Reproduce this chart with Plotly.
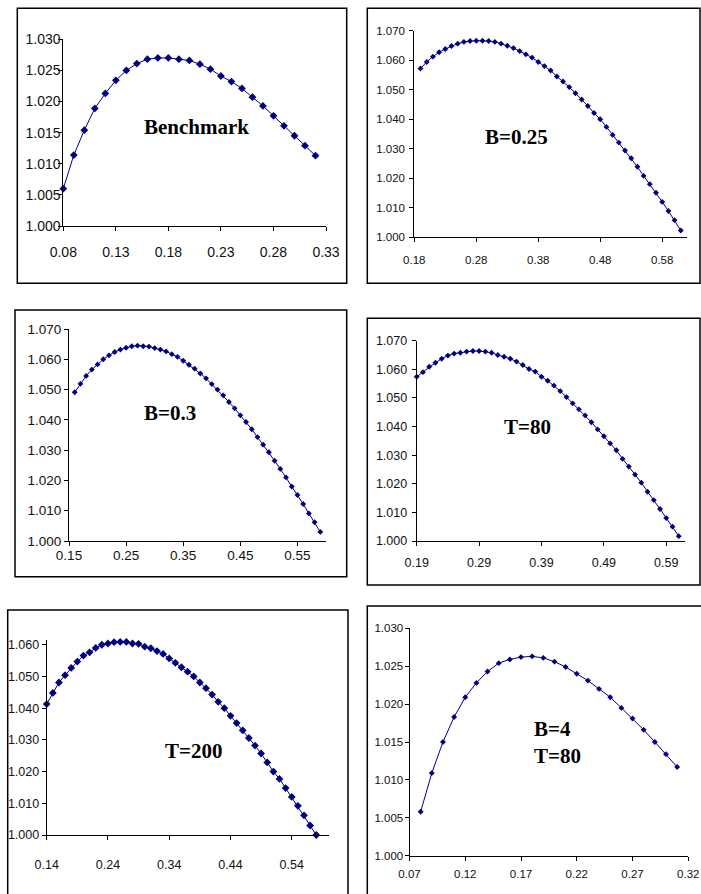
import plotly.graph_objects as go

W, H = 701, 894

# ---------------- data ----------------
bench_x = [0.08, 0.09, 0.10, 0.11, 0.12, 0.13, 0.14, 0.15, 0.16, 0.17, 0.18, 0.19, 0.20,
           0.21, 0.22, 0.23, 0.24, 0.25, 0.26, 0.27, 0.28, 0.29, 0.30, 0.31, 0.32]
bench_y = [1.0060, 1.0114, 1.0154, 1.0189, 1.0213, 1.0234, 1.0250, 1.0261, 1.0268, 1.0270,
           1.0270, 1.0268, 1.0266, 1.0260, 1.0252, 1.0241, 1.0232, 1.0221, 1.0207, 1.0193,
           1.0177, 1.0161, 1.0145, 1.0129, 1.0113]

b025_x = [0.19, 0.20, 0.21, 0.22, 0.23, 0.24, 0.25, 0.26, 0.27, 0.28, 0.29, 0.30, 0.31, 0.32,
          0.33, 0.34, 0.35, 0.36, 0.37, 0.38, 0.39, 0.40, 0.41, 0.42, 0.43, 0.44, 0.45, 0.46,
          0.47, 0.48, 0.49, 0.50, 0.51, 0.52, 0.53, 0.54, 0.55, 0.56, 0.57, 0.58, 0.59, 0.60, 0.61]
b025_y = [1.0572, 1.0594, 1.0612, 1.0627, 1.0638, 1.0648, 1.0656, 1.0662, 1.0665, 1.0666,
          1.0666, 1.0665, 1.0662, 1.0656, 1.0649, 1.0641, 1.0631, 1.0620, 1.0609, 1.0594,
          1.0580, 1.0565, 1.0545, 1.0528, 1.0509, 1.0488, 1.0467, 1.0445, 1.0421, 1.0400,
          1.0374, 1.0347, 1.0321, 1.0294, 1.0268, 1.0239, 1.0208, 1.0180, 1.0151, 1.0120,
          1.0089, 1.0058, 1.0023]

b03_x = [0.16, 0.17, 0.18, 0.19, 0.20, 0.21, 0.22, 0.23, 0.24, 0.25, 0.26, 0.27, 0.28, 0.29,
         0.30, 0.31, 0.32, 0.33, 0.34, 0.35, 0.36, 0.37, 0.38, 0.39, 0.40, 0.41, 0.42, 0.43,
         0.44, 0.45, 0.46, 0.47, 0.48, 0.49, 0.50, 0.51, 0.52, 0.53, 0.54, 0.55, 0.56, 0.57,
         0.58, 0.59]
b03_y = [1.0491, 1.0519, 1.0545, 1.0566, 1.0583, 1.0600, 1.0613, 1.0624, 1.0632, 1.0638,
         1.0643, 1.0645, 1.0643, 1.0642, 1.0637, 1.0632, 1.0626, 1.0617, 1.0608, 1.0595,
         1.0582, 1.0569, 1.0553, 1.0537, 1.0518, 1.0500, 1.0481, 1.0459, 1.0438, 1.0415,
         1.0393, 1.0369, 1.0343, 1.0318, 1.0293, 1.0265, 1.0238, 1.0210, 1.0180, 1.0152,
         1.0122, 1.0091, 1.0062, 1.0030]

t80_x = [0.19, 0.20, 0.21, 0.22, 0.23, 0.24, 0.25, 0.26, 0.27, 0.28, 0.29, 0.30, 0.31, 0.32,
         0.33, 0.34, 0.35, 0.36, 0.37, 0.38, 0.39, 0.40, 0.41, 0.42, 0.43, 0.44, 0.45, 0.46,
         0.47, 0.48, 0.49, 0.50, 0.51, 0.52, 0.53, 0.54, 0.55, 0.56, 0.57, 0.58, 0.59, 0.60, 0.61]
t80_y = [1.0574, 1.0590, 1.0609, 1.0623, 1.0637, 1.0648, 1.0655, 1.0658, 1.0662, 1.0664,
         1.0664, 1.0662, 1.0658, 1.0650, 1.0644, 1.0637, 1.0627, 1.0615, 1.0601, 1.0592,
         1.0574, 1.0560, 1.0543, 1.0524, 1.0503, 1.0481, 1.0460, 1.0439, 1.0415, 1.0390,
         1.0366, 1.0341, 1.0317, 1.0287, 1.0260, 1.0232, 1.0204, 1.0172, 1.0143, 1.0112,
         1.0080, 1.0050, 1.0017]

t200_x = [0.14, 0.15, 0.16, 0.17, 0.18, 0.19, 0.20, 0.21, 0.22, 0.23, 0.24, 0.25, 0.26, 0.27,
          0.28, 0.29, 0.30, 0.31, 0.32, 0.33, 0.34, 0.35, 0.36, 0.37, 0.38, 0.39, 0.40, 0.41,
          0.42, 0.43, 0.44, 0.45, 0.46, 0.47, 0.48, 0.49, 0.50, 0.51, 0.52, 0.53, 0.54, 0.55,
          0.56, 0.57, 0.58]
t200_y = [1.0413, 1.0448, 1.0481, 1.0504, 1.0527, 1.0547, 1.0566, 1.0576, 1.0590, 1.0600,
          1.0604, 1.0608, 1.0609, 1.0609, 1.0604, 1.0603, 1.0594, 1.0589, 1.0580, 1.0571,
          1.0557, 1.0543, 1.0529, 1.0515, 1.0500, 1.0481, 1.0463, 1.0443, 1.0420, 1.0400,
          1.0376, 1.0353, 1.0330, 1.0306, 1.0282, 1.0257, 1.0229, 1.0200, 1.0177, 1.0148,
          1.0120, 1.0092, 1.0062, 1.0030, 1.0000]

b4t80_x = [0.08, 0.09, 0.10, 0.11, 0.12, 0.13, 0.14, 0.15, 0.16, 0.17, 0.18, 0.19, 0.20,
           0.21, 0.22, 0.23, 0.24, 0.25, 0.26, 0.27, 0.28, 0.29, 0.30, 0.31]
b4t80_y = [1.0058, 1.0109, 1.0150, 1.0183, 1.0209, 1.0228, 1.0243, 1.0254, 1.0259, 1.0262,
           1.0263, 1.0261, 1.0256, 1.0249, 1.0240, 1.0231, 1.0220, 1.0209, 1.0195, 1.0181,
           1.0166, 1.0150, 1.0134, 1.0117]

labels = ["Benchmark", "B=0.25", "B=0.3", "T=80", "T=200", "B=4<br>T=80"]

# ---------------- panel layout (pixel geometry) ----------------
NAVY = "#000080"


def px_x(v):
    return v / W


def px_y(v):
    return 1 - v / H


panels = [
    dict(x=bench_x, y=bench_y, plot=(63.3, 326.0, 39.3, 226.0), xr=[0.08, 0.33], x0=0.08, dx=0.05,
         yr=[1.0, 1.030], dy=0.005, msize=6, tfs=14, xso=9, yso=-5,
         box=(17.3, 346.7, 8.3, 283.3), lab=(196, 127)),
    dict(x=b025_x, y=b025_y, plot=(414.3, 687.0, 30.7, 237.3), xr=[0.18, 0.62], x0=0.18, dx=0.1,
         yr=[1.0, 1.070], dy=0.01, msize=4.5, tfs=11.5, xso=8, yso=2,
         box=(367.3, 700.0, 8.3, 283.3), lab=(516, 137)),
    dict(x=b03_x, y=b03_y, plot=(69.0, 326.0, 329.0, 541.0), xr=[0.15, 0.60], x0=0.15, dx=0.1,
         yr=[1.0, 1.070], dy=0.01, msize=4.5, tfs=13.5, xso=-2, yso=0,
         box=(15.0, 346.7, 310.0, 576.7), lab=(170, 413)),
    dict(x=t80_x, y=t80_y, plot=(416.7, 685.0, 340.7, 541.0), xr=[0.19, 0.62], x0=0.19, dx=0.1,
         yr=[1.0, 1.070], dy=0.01, msize=4.5, tfs=12.5, xso=6, yso=2,
         box=(367.3, 700.0, 318.3, 585.0), lab=(527, 427)),
    dict(x=t200_x, y=t200_y, plot=(46.7, 328.5, 640.0, 835.0), xr=[0.14, 0.60], x0=0.14, dx=0.1,
         yr=[1.0, 1.0615], dy=0.01, msize=6, tfs=12.5, xso=14, yso=0,
         box=(7.7, 348.0, 610.0, 900.0), lab=(193, 751)),
    dict(x=b4t80_x, y=b4t80_y, plot=(409.5, 688.3, 628.3, 855.7), xr=[0.07, 0.32], x0=0.07, dx=0.05,
         yr=[1.0, 1.030], dy=0.005, msize=4.5, tfs=11.5, xso=3, yso=-1,
         box=(367.3, 706.0, 606.0, 900.0), lab=(532, 742)),
]

fig = go.Figure()
shapes = []
annotations = []

for i, p in enumerate(panels, start=1):
    sfx = "" if i == 1 else str(i)
    fig.add_trace(go.Scatter(
        x=p["x"], y=p["y"], mode="lines+markers",
        line=dict(color=NAVY, width=1),
        marker=dict(symbol="diamond", size=p["msize"], color=NAVY),
        cliponaxis=False, showlegend=False, hoverinfo="x+y",
        xaxis="x" + sfx, yaxis="y" + sfx,
    ))
    x0, x1, y0, y1 = p["plot"]
    tick_font = dict(family="Liberation Sans", size=p["tfs"], color="#111111")
    common = dict(
        showline=True, linecolor="black", linewidth=1, mirror=False,
        ticks="outside", ticklen=4, tickcolor="black", tickwidth=1,
        showgrid=False, zeroline=False, tickfont=tick_font,
        fixedrange=True, automargin=False,
    )
    fig.layout["xaxis" + sfx] = dict(
        domain=[px_x(x0), px_x(x1)], anchor="y" + sfx, range=p["xr"],
        tickmode="linear", tick0=p["x0"], dtick=p["dx"], tickformat=".2f",
        ticklabelstandoff=p["xso"], **common,
    )
    fig.layout["yaxis" + sfx] = dict(
        domain=[px_y(y1), px_y(y0)], anchor="x" + sfx, range=p["yr"],
        tickmode="linear", tick0=1.0, dtick=p["dy"], tickformat=".3f",
        ticklabelstandoff=p["yso"], **common,
    )
    bx0, bx1, by0, by1 = p["box"]
    shapes.append(dict(type="rect", xref="paper", yref="paper",
                       x0=px_x(bx0), x1=px_x(bx1), y0=px_y(by1), y1=px_y(by0),
                       line=dict(color="black", width=1.5), fillcolor="rgba(0,0,0,0)",
                       layer="below"))
    lx, ly = p["lab"]
    last = i == 6
    annotations.append(dict(
        text=labels[i - 1], xref="paper", yref="paper",
        x=px_x(lx), y=px_y(ly), xanchor="left" if last else "center", yanchor="middle",
        align="left", showarrow=False,
        font=dict(family="Liberation Serif", size=21, color="black", weight="bold"),
    ))

fig.update_layout(
    width=W, height=H, margin=dict(l=0, r=0, t=0, b=0, autoexpand=False),
    paper_bgcolor="white", plot_bgcolor="white",
    shapes=shapes, annotations=annotations,
    showlegend=False,
)

fig.write_html("out.html", config=dict(displayModeBar=False))
